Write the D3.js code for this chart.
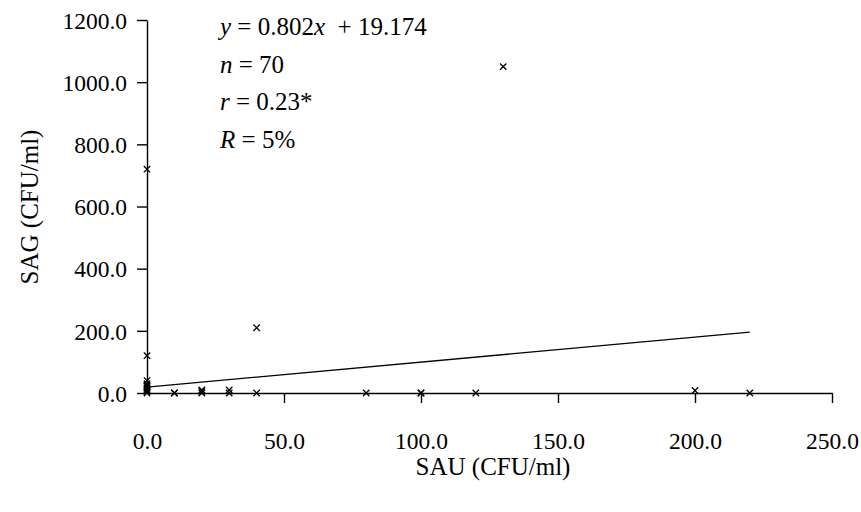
<!DOCTYPE html>
<html><head><meta charset="utf-8">
<script src="https://cdn.jsdelivr.net/npm/d3@7"></script>
<style>#c text, #c tspan { font-family: "Liberation Serif" !important; }</style>
</head><body style="margin:0;background:#fff">
<svg id="c" width="861" height="512" font-family="Liberation Serif"></svg>
<script>
const sauValues = [0,0,0,0,0,0,0,0,0,0,10,10,20,20,20,30,30,40,40,80,100,100,120,130,200,220];
const sagValues = [0,5,10,15,20,25,30,40,120,720,0,0,0,5,10,0,10,0,210,0,0,0,0,1050,8,0];
const xTicks = [0,50,100,150,200,250];
const yTicks = [0,200,400,600,800,1000,1200];
const slope = 0.802, intercept = 19.174;
const fitRange = [0,220];
const statLines = [
  [{t:"y",i:true},{t:" = 0.802",i:false},{t:"x",i:true},{t:"  + 19.174",i:false}],
  [{t:"n",i:true},{t:" = 70",i:false}],
  [{t:"r",i:true},{t:" = 0.23*",i:false}],
  [{t:"R",i:true},{t:" = 5%",i:false}]
];

const svg = d3.select("#c");
const x = d3.scaleLinear().domain([0,250]).range([147,832]);
const y = d3.scaleLinear().domain([0,1200]).range([393,20]);
const fmt = d3.format(".1f");
const FS = 23.5, FT = 25;
function serif(sel, size){
  sel.each(function(){ this.setAttribute("style", "font-family: 'Liberation Serif' !important; font-size: " + size + "px;"); });
  return sel;
}

const xa = svg.append("g").attr("transform","translate(0,393)")
  .call(d3.axisBottom(x).tickValues(xTicks).tickFormat(fmt).tickSize(10).tickSizeOuter(0));
const ya = svg.append("g").attr("transform","translate(147,0)")
  .call(d3.axisLeft(y).tickValues(yTicks).tickFormat(fmt).tickSize(10).tickSizeOuter(0));
[xa,ya].forEach(a=>{
  a.attr("font-family","Liberation Serif").attr("font-size",FS);
  a.selectAll("path,line").attr("stroke","#000").attr("stroke-width",1.4);
  serif(a.selectAll("text"), FS).attr("fill","#000");
});
xa.selectAll(".tick text").attr("dy",0).attr("y",56);
ya.selectAll(".tick text").attr("x",-20).attr("dy","0.35em");
xa.selectAll(".tick").filter(d=>d===0).select("line").remove();

// regression line
svg.append("line")
  .attr("x1",x(fitRange[0])).attr("y1",y(slope*fitRange[0]+intercept))
  .attr("x2",x(fitRange[1])).attr("y2",y(slope*fitRange[1]+intercept))
  .attr("stroke","#000").attr("stroke-width",1.3);

// points
const pts = sauValues.map((v,i)=>[v,sagValues[i]]);
const s = 3.2;
svg.append("g").selectAll("path").data(pts).join("path")
  .attr("d",d=>{const cx=x(d[0]),cy=y(d[1]);return `M${cx-s},${cy-s}L${cx+s},${cy+s}M${cx-s},${cy+s}L${cx+s},${cy-s}`;})
  .attr("stroke","#000").attr("stroke-width",1.3).attr("fill","none");

// stats text
const st = svg.append("g");
statLines.forEach((line,k)=>{
  const t = serif(st.append("text"), FT).attr("x",220).attr("y",35+k*37.5).attr("xml:space","preserve");
  line.forEach(p=>t.append("tspan").text(p.t).attr("font-style",p.i?"italic":"normal"));
});

// axis titles
serif(svg.append("text"), FT).attr("x",493).attr("y",475).attr("text-anchor","middle").text("SAU (CFU/ml)");
serif(svg.append("text"), FT).attr("transform","translate(38,207) rotate(-90)").attr("text-anchor","middle").text("SAG (CFU/ml)");
</script>
</body></html>
